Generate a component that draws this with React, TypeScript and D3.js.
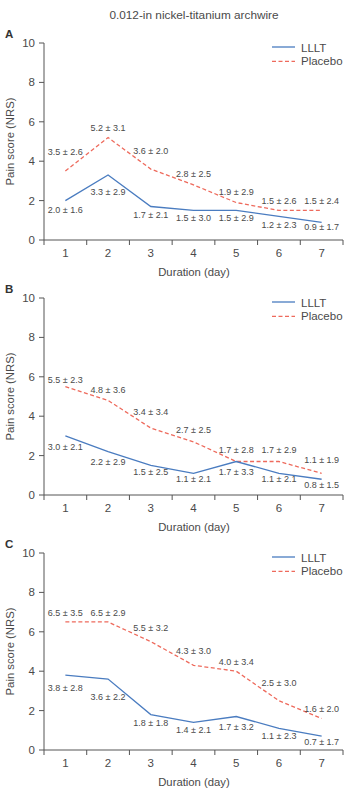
import React from "react";
import * as d3 from "d3";

const title = "0.012-in nickel-titanium archwire";
const days = [1, 2, 3, 4, 5, 6, 7];
const yTicks = [0, 2, 4, 6, 8, 10];
const panelLetters = ["A", "B", "C"];
const seriesNames = ["LLLT", "Placebo"];

const aLLLT = [2.0, 3.3, 1.7, 1.5, 1.5, 1.2, 0.9];
const aLLLTsd = [1.6, 2.9, 2.1, 3.0, 2.9, 2.3, 1.7];
const aPlacebo = [3.5, 5.2, 3.6, 2.8, 1.9, 1.5, 1.5];
const aPlaceboSd = [2.6, 3.1, 2.0, 2.5, 2.9, 2.6, 2.4];

const bLLLT = [3.0, 2.2, 1.5, 1.1, 1.7, 1.1, 0.8];
const bLLLTsd = [2.1, 2.9, 2.5, 2.1, 3.3, 2.1, 1.5];
const bPlacebo = [5.5, 4.8, 3.4, 2.7, 1.7, 1.7, 1.1];
const bPlaceboSd = [2.3, 3.6, 3.4, 2.5, 2.8, 2.9, 1.9];

const cLLLT = [3.8, 3.6, 1.8, 1.4, 1.7, 1.1, 0.7];
const cLLLTsd = [2.8, 2.2, 1.8, 2.1, 3.2, 2.3, 1.7];
const cPlacebo = [6.5, 6.5, 5.5, 4.3, 4.0, 2.5, 1.6];
const cPlaceboSd = [3.5, 2.9, 3.2, 3.0, 3.4, 3.0, 2.0];

// label placement (pixel offsets of annotation centre from its point)
const labelDy = [
  { lllt: [9, 17, 8, 7, 7, 8, 5], placebo: [-19, -10, -18, -11, -11, -10, -10] },
  { lllt: [11, 10, 6, 6, 10, 6, 6], placebo: [-7, -11, -16, -12, -12, -12, -13] },
  { lllt: [13, 18, 8, 7, 10, 8, 6], placebo: [-9, -9, -14, -14, -9, -18, -10] },
];

const panels = [
  { lllt: aLLLT, llltSd: aLLLTsd, placebo: aPlacebo, placeboSd: aPlaceboSd },
  { lllt: bLLLT, llltSd: bLLLTsd, placebo: bPlacebo, placeboSd: bPlaceboSd },
  { lllt: cLLLT, llltSd: cLLLTsd, placebo: cPlacebo, placeboSd: cPlaceboSd },
];

const FONT = "'Liberation Sans', Arial, Helvetica, sans-serif";
const BLUE = "#4a7cc0";
const RED = "#ee6a5c";
const AXIS = "#555";
const TEXT = "#4a4a4a";

const fmt = (v: number) => v.toFixed(1);

function Panel({ idx }: { idx: number }) {
  const p = panels[idx];
  const top = 43 + idx * 255;
  const height = 197;
  const left = 44;
  const right = 343;
  const x = d3.scaleLinear().domain([0, 7]).range([left, right]);
  const y = d3.scaleLinear().domain([0, 10]).range([top + height, top]);
  const px = (i: number) => x(i + 0.5);
  const line = d3
    .line<number>()
    .x((_, i) => px(i))
    .y((d) => y(d));
  const y0 = y(0);
  return (
    <g>
      <text x={5} y={top - 5.5} fontSize={11.5} fontWeight="bold" fill="#333" fontFamily={FONT}>
        {panelLetters[idx]}
      </text>
      {/* y axis */}
      <line x1={left} x2={left} y1={y(10)} y2={y0} stroke={AXIS} strokeWidth={1} />
      {yTicks.map((t) => (
        <g key={t}>
          <line x1={left - 5} x2={left} y1={y(t)} y2={y(t)} stroke={AXIS} />
          <text x={35} y={y(t)} dy="0.35em" textAnchor="end" fontSize={11.5} fill={TEXT} fontFamily={FONT}>
            {t}
          </text>
        </g>
      ))}
      {/* x axis */}
      <line x1={left} x2={right} y1={y0} y2={y0} stroke={AXIS} />
      {d3.range(0, 8).map((b) => (
        <line key={b} x1={x(b)} x2={x(b)} y1={y0} y2={y0 + 5} stroke={AXIS} />
      ))}
      {days.map((d, i) => (
        <text key={d} x={px(i)} y={y0 + 17} textAnchor="middle" fontSize={11.5} fill={TEXT} fontFamily={FONT}>
          {d}
        </text>
      ))}
      <text x={194} y={y0 + 36} textAnchor="middle" fontSize={11.3} fill={TEXT} fontFamily={FONT}>
        Duration (day)
      </text>
      <text
        transform={`translate(14,${(y(10) + y0) / 2}) rotate(-90)`}
        textAnchor="middle"
        fontSize={11.3}
        fill={TEXT}
        fontFamily={FONT}
      >
        Pain score (NRS)
      </text>
      {/* lines */}
      <path d={line(p.placebo) || ""} fill="none" stroke={RED} strokeWidth={1.3} strokeDasharray="4,2.5" />
      <path d={line(p.lllt) || ""} fill="none" stroke={BLUE} strokeWidth={1.3} />
      {/* annotations */}
      {p.placebo.map((v, i) => (
        <text
          key={"p" + i}
          x={px(i)}
          y={y(v) + labelDy[idx].placebo[i]}
          dy="0.35em"
          textAnchor="middle"
          fontSize={9}
          fill={TEXT}
          fontFamily={FONT}
        >
          {`${fmt(v)} ± ${fmt(p.placeboSd[i])}`}
        </text>
      ))}
      {p.lllt.map((v, i) => (
        <text
          key={"l" + i}
          x={px(i)}
          y={y(v) + labelDy[idx].lllt[i]}
          dy="0.35em"
          textAnchor="middle"
          fontSize={9}
          fill={TEXT}
          fontFamily={FONT}
        >
          {`${fmt(v)} ± ${fmt(p.llltSd[i])}`}
        </text>
      ))}
      {/* legend */}
      <line x1={272} x2={295} y1={top + 4} y2={top + 4} stroke={BLUE} strokeWidth={1.3} />
      <text x={301} y={top + 8.5} fontSize={11.5} fill={TEXT} fontFamily={FONT}>
        {seriesNames[0]}
      </text>
      <line x1={272} x2={295} y1={top + 18.3} y2={top + 18.3} stroke={RED} strokeWidth={1.3} strokeDasharray="4,2.5" />
      <text x={301} y={top + 22} fontSize={11.5} fill={TEXT} fontFamily={FONT}>
        {seriesNames[1]}
      </text>
    </g>
  );
}

export default function App() {
  return (
    <svg
      width={350}
      height={789}
      style={{ position: "absolute", left: 0, top: 0, background: "#fff" }}
    >
      <text x={194} y={19} textAnchor="middle" fontSize={11.8} fill={TEXT} fontFamily={FONT}>
        {title}
      </text>
      {panels.map((_, i) => (
        <Panel key={i} idx={i} />
      ))}
    </svg>
  );
}
